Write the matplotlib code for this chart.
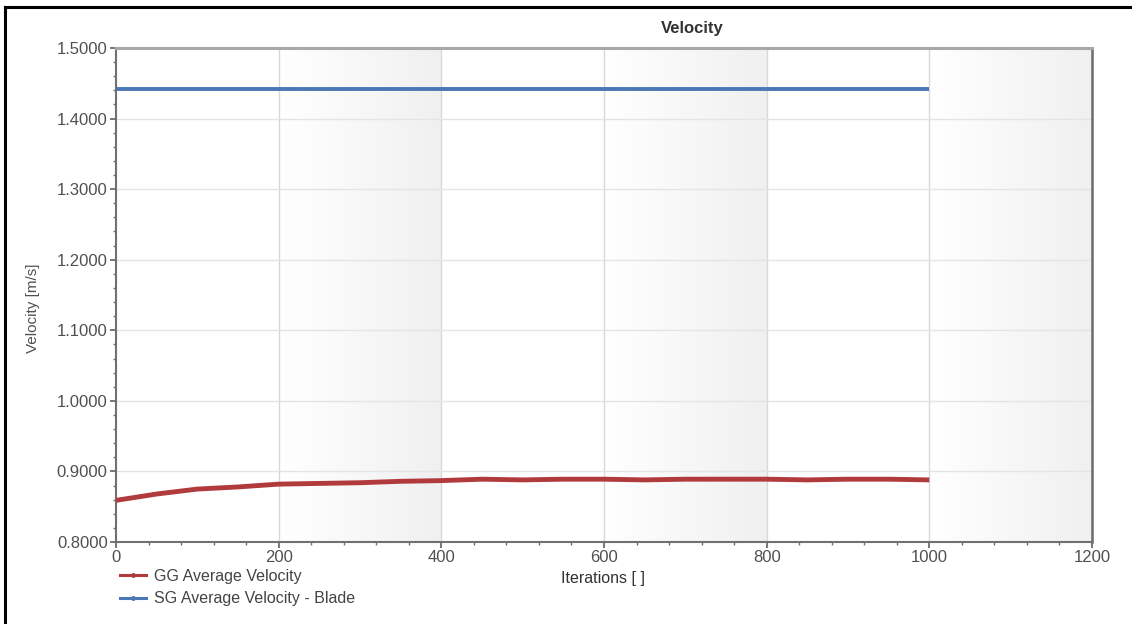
import numpy as np
import matplotlib
matplotlib.use("Agg")
import matplotlib.pyplot as plt
from matplotlib.lines import Line2D
from matplotlib.colors import LinearSegmentedColormap

plt.rcParams['font.family'] = ['Liberation Sans', 'DejaVu Sans']

# ---- data ----
iterations = [0, 50, 100, 150, 200, 250, 300, 350, 400, 450, 500, 550, 600,
              650, 700, 750, 800, 850, 900, 950, 1000]
gg_velocity = [0.859, 0.868, 0.875, 0.878, 0.882, 0.883, 0.884, 0.886, 0.887,
               0.889, 0.888, 0.889, 0.889, 0.888, 0.889, 0.889, 0.889, 0.888,
               0.889, 0.889, 0.888]
sg_iterations = [0, 1000]
sg_velocity = [1.442, 1.442]
x_ticks = [0, 200, 400, 600, 800, 1000, 1200]
y_ticks = [0.8, 0.9, 1.0, 1.1, 1.2, 1.3, 1.4, 1.5]
shaded_bands = [(200, 400), (600, 800), (1000, 1200)]
series_names = ["GG Average Velocity", "SG Average Velocity - Blade"]

W, H = 1132, 624
fig = plt.figure(figsize=(W / 100, H / 100), dpi=100)
fig.patch.set_facecolor('white')
ax = fig.add_axes([116 / W, 1 - 542 / H, (1092 - 116) / W, (542 - 48) / H])

ax.set_xlim(0, 1200)
ax.set_ylim(0.8, 1.5)

# gradient bands
cmap = LinearSegmentedColormap.from_list('g', ['#ffffff', '#f0f0f0'])
grad = np.linspace(0, 1, 256).reshape(1, -1)
for a, b in shaded_bands:
    ax.imshow(grad, extent=(a, b, 0.8, 1.5), aspect='auto', cmap=cmap,
              zorder=0, interpolation='bicubic')

# grid
for xv in x_ticks[1:-1]:
    ax.axvline(xv, color='#d8d8d8', lw=1.0, zorder=1)
for yv in y_ticks[1:-1]:
    ax.axhline(yv, color='#e4e4e4', lw=1.0, zorder=1)

red = '#b13a3c'
blue = '#4a78b4'
ax.plot(iterations, gg_velocity, color=red, lw=3.5, zorder=3,
        solid_capstyle='butt')
ax.plot(sg_iterations, sg_velocity, color=blue, lw=2.8, zorder=3,
        solid_capstyle='butt')

ax.set_xticks(x_ticks)
ax.set_yticks(y_ticks)
ax.set_xticklabels([str(v) for v in x_ticks])
ax.set_yticklabels([f"{v:.4f}" for v in y_ticks])
ax.set_xticks(np.arange(0, 1201, 40), minor=True)
ax.set_yticks(np.arange(0.8, 1.5001, 0.02), minor=True)
ax.tick_params(axis='both', which='major', direction='out', length=4,
               width=1.2, color='#606060', labelsize=12, labelcolor='#505050',
               pad=2)
ax.tick_params(axis='both', which='minor', direction='out', length=2.5,
               width=1.0, color='#707070')

for s in ['left', 'bottom']:
    ax.spines[s].set_color('#707070')
    ax.spines[s].set_linewidth(1.5)
ax.spines['top'].set_color('#a8a8a8')
ax.spines['top'].set_linewidth(2.2)
ax.spines['right'].set_color('#6a6a6a')
ax.spines['right'].set_linewidth(1.8)

fig.text(692 / W, 1 - 29 / H, "Velocity", ha='center', va='center',
         fontsize=12, fontweight='bold', color='#333333')
fig.text(603 / W, 1 - 579 / H, "Iterations [ ]", ha='center', va='center',
         fontsize=11.5, color='#333333')
fig.text(33 / W, 1 - 308 / H, "Velocity [m/s]", ha='center', va='center',
         rotation=90, fontsize=11, color='#505050')

handles = [Line2D([], [], color=red, lw=2.2, marker='o', markersize=2.5),
           Line2D([], [], color=blue, lw=2.2, marker='o', markersize=2.5)]
fig.legend(handles, series_names, loc='upper left',
           bbox_to_anchor=(120 / W, 1 - 569 / H), frameon=False,
           fontsize=11.5, handlelength=1.6, handletextpad=0.5,
           labelspacing=0.45, borderpad=0, borderaxespad=0,
           labelcolor='#444444')

# outer frame lines (left and top only)
fig.add_artist(Line2D([5 / W, 5 / W], [0, 1 - 7 / H], transform=fig.transFigure,
                      color='black', lw=2.2))
fig.add_artist(Line2D([5 / W, 1], [1 - 7 / H, 1 - 7 / H], transform=fig.transFigure,
                      color='black', lw=2.2))

fig.savefig("out.png", dpi=100, facecolor='white')
